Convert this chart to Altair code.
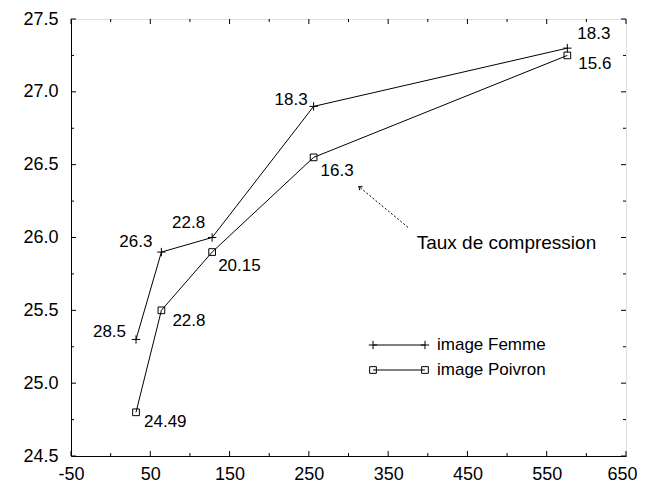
import altair as alt
import pandas as pd

# ---- data ----
x_values = [32, 64, 128, 256, 576]
femme_psnr = [25.3, 25.9, 26.0, 26.9, 27.3]
poivron_psnr = [24.8, 25.5, 25.9, 26.55, 27.25]
femme_labels = ["28.5", "26.3", "22.8", "18.3", "18.3"]
poivron_labels = ["24.49", "22.8", "20.15", "16.3", "15.6"]
series_names = ["image Femme", "image Poivron"]
x_ticks = [-50, 50, 150, 250, 350, 450, 550, 650]
x_minor = [0, 100, 200, 300, 400, 500, 600]
y_ticks = [24.5, 25.0, 25.5, 26.0, 26.5, 27.0, 27.5]
y_minor = [24.75, 25.25, 25.75, 26.25, 26.75, 27.25]
annotation_text = ["Taux de compression"]
annotation_x = [386]
annotation_y = [25.96]
arrow_x = [375, 313]
arrow_y = [26.07, 26.35]

W, H = 555, 437
FONT = "Liberation Sans"
PLUS = "M-1,0H1M0,-1V1"
CHEVRON = "M-0.7,1L0,0L0.7,1"

xs = alt.Scale(domain=[-50, 650], nice=False, zero=False)
ys = alt.Scale(domain=[24.5, 27.5], nice=False, zero=False)

X_AXIS = alt.Axis(values=x_ticks, ticks=False, grid=False, labelPadding=9,
                  labelFontSize=18, labelFont=FONT, labelColor="black",
                  domainColor="black", labelExpr="'' + datum.value",
                  labelOffset={"condition": {"test": "datum.value >= 650", "value": -4}, "value": 0},
                  labelFlush=False, title=None)
Y_AXIS = alt.Axis(values=y_ticks, ticks=False, grid=False, labelPadding=13,
                  labelFontSize=18, labelFont=FONT, labelColor="black",
                  domainColor="black", labelExpr="format(datum.value, '.1f')",
                  labelFlush=False, title=None)

df_f = pd.DataFrame({"x": x_values, "y": femme_psnr, "label": femme_labels, "series": series_names[0]})
df_p = pd.DataFrame({"x": x_values, "y": poivron_psnr, "label": poivron_labels, "series": series_names[1]})
df = pd.concat([df_f, df_p], ignore_index=True)


def X(field="x"):
    return alt.X(f"{field}:Q", scale=xs, axis=X_AXIS, title=None)


def Y(field="y"):
    return alt.Y(f"{field}:Q", scale=ys, axis=Y_AXIS, title=None)


lines = alt.Chart(df).mark_line(color="black", strokeWidth=1).encode(
    x=X(), y=Y(), detail="series:N", order="x:Q",
)

pts_f = alt.Chart(df_f).mark_point(shape=PLUS, size=70, filled=False, color="black",
                                   strokeWidth=1, opacity=1).encode(x=X(), y=Y())
pts_p = alt.Chart(df_p).mark_point(shape="square", size=45, filled=False, color="black",
                                   strokeWidth=1, opacity=1).encode(x=X(), y=Y())

# per-label offsets (style)
f_off = [(-10, -7, "right"), (-9, -10, "right"), (-7, -15, "right"), (-6, -6, "right"), (10, -14, "left")]
p_off = [(8, 10, "left"), (11, 11, "left"), (6, 14, "left"), (7, 14, "left"), (11, 9, "left")]

label_layers = []
for dfx, offs in ((df_f, f_off), (df_p, p_off)):
    for i, (dx, dy, al) in enumerate(offs):
        label_layers.append(
            alt.Chart(dfx.iloc[[i]]).mark_text(dx=dx, dy=dy, align=al, baseline="middle",
                                                fontSize=17, font=FONT, color="black")
            .encode(x=X(), y=Y(), text="label:N")
        )

# inward tick marks on all four sides
xmaj = pd.DataFrame({"v": x_ticks})
xmin = pd.DataFrame({"v": x_minor})
ymaj = pd.DataFrame({"v": y_ticks})
ymin = pd.DataFrame({"v": y_minor})
tick_layers = []
for d, L in ((xmaj, 5), (xmin, 3)):
    tick_layers.append(alt.Chart(d).mark_rule(color="black", strokeWidth=1).encode(
        x=X("v"), y=alt.value(H), y2=alt.value(H - L)))
    tick_layers.append(alt.Chart(d).mark_rule(color="black", strokeWidth=1).encode(
        x=X("v"), y=alt.value(0), y2=alt.value(L)))
for d, L in ((ymaj, 5), (ymin, 3)):
    tick_layers.append(alt.Chart(d).mark_rule(color="black", strokeWidth=1).encode(
        y=Y("v"), x=alt.value(0), x2=alt.value(L)))
    tick_layers.append(alt.Chart(d).mark_rule(color="black", strokeWidth=1).encode(
        y=Y("v"), x=alt.value(W), x2=alt.value(W - L)))

# annotation
ann_df = pd.DataFrame({"x": annotation_x, "y": annotation_y, "t": annotation_text})
ann_text = alt.Chart(ann_df).mark_text(align="left", baseline="middle", fontSize=19,
                                       font=FONT, color="black").encode(x=X(), y=Y(), text="t:N")
arr_df = pd.DataFrame({"x": [arrow_x[0]], "x2": [arrow_x[1]], "y": [arrow_y[0]], "y2": [arrow_y[1]]})
arrow = alt.Chart(arr_df).mark_rule(color="black", strokeWidth=1, strokeDash=[2, 2]).encode(
    x=X(), x2="x2:Q", y=Y(), y2="y2:Q")
head_df = pd.DataFrame({"x": [arrow_x[1]], "y": [arrow_y[1]]})
head = alt.Chart(head_df).mark_point(shape=CHEVRON, size=40, angle=310, filled=False,
                                     color="black", strokeWidth=1, opacity=1).encode(x=X(), y=Y())

# manual legend
leg_layers = []
leg_names = pd.DataFrame({"name": series_names})
for i, (shape, sz, ly) in enumerate(((PLUS, 70, 326), ("square", 45, 351))):
    one = leg_names.iloc[[i]]
    leg_layers.append(alt.Chart(one).mark_rule(color="black", strokeWidth=1).encode(
        x=alt.value(302), x2=alt.value(354), y=alt.value(ly)))
    for px in (302, 354):
        leg_layers.append(alt.Chart(one).mark_point(shape=shape, size=sz, filled=False,
                                                    color="black", strokeWidth=1, opacity=1)
                          .encode(x=alt.value(px), y=alt.value(ly)))
    leg_layers.append(alt.Chart(one).mark_text(align="left", baseline="middle", fontSize=17,
                                               font=FONT, color="black")
                      .encode(x=alt.value(366), y=alt.value(ly), text="name:N"))

chart = alt.layer(
    lines, *tick_layers, pts_f, pts_p, *label_layers, arrow, head, ann_text, *leg_layers
).properties(
    width=W, height=H,
    autosize=alt.AutoSizeParams(type="none"),
    padding={"left": 63, "top": 11, "right": 11, "bottom": 30},
    background="white",
).configure_view(stroke="#777777", strokeWidth=1).configure(font=FONT)

chart.save("out.html", embed_options={"renderer": "svg", "actions": False})
